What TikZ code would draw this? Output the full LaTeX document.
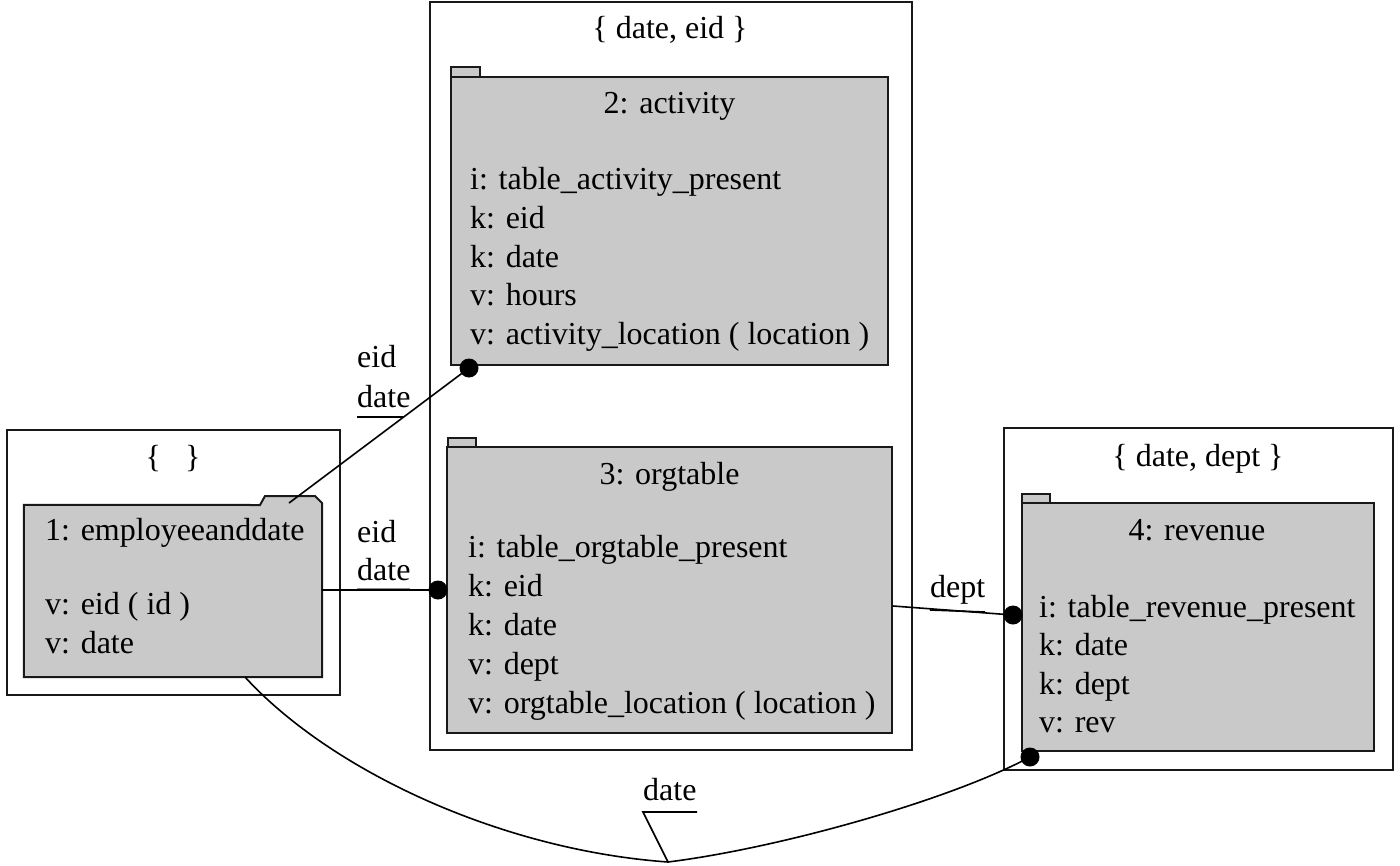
\documentclass[tikz,border=0pt]{standalone}
\usepackage{fontspec}
\setmainfont{Liberation Serif}
\usetikzlibrary{fit}
\begin{document}
\begin{tikzpicture}[x=1pt,y=-1pt,
  outerbox/.style={draw=black!90, line width=2pt, fill=white, inner sep=0pt},
  folder/.style={draw=black!90, line width=2pt, fill=black!21, inner sep=0pt},
  foldertab/.style={draw=black!90, line width=1.8pt, fill=black!21},
  conn/.style={draw=black, line width=1.6pt},
  leader/.style={draw=black, line width=1.6pt},
  dotnode/.style={circle, fill=black, minimum size=19pt, inner sep=0pt},
  txt/.style={font=\fontsize{32}{39}\selectfont, inner sep=0pt, anchor=base west},
  ctxt/.style={font=\fontsize{32}{39}\selectfont, inner sep=0pt, anchor=base}]
\useasboundingbox (0,0) rectangle (1400,865);

% outer groups
\node[outerbox, fit={(7,430) (340,695)}] (g1) {};
\node[outerbox, fit={(430,2) (912,750)}] (g2) {};
\node[outerbox, fit={(1004,428) (1393,770)}] (g3) {};
\node[ctxt] (g1t) at (173,467) {\{\ \ \ \}};
\node[ctxt] (g2t) at (670,38) {\{ date, eid \}};
\node[ctxt] (g3t) at (1198,466) {\{ date, dept \}};

% node 1 (folder with tab on the right)
\node[inner sep=0pt, fit={(24,505) (322,677)}] (n1) {};
\draw[folder] (n1.south west) -- (n1.north west) -- (260,505) -- (265,496)
  -- (315,496) -- (322,503) -- (n1.south east) -- cycle;
\node[txt] (n1t) at (45,540) {1: employeeanddate};
\node[txt] (n1a) at (45,614) {v: eid ( id )};
\node[txt] (n1b) at (45,653) {v: date};

% node 2
\draw[foldertab] (451,77) rectangle (480,67);
\node[folder, fit={(451,77) (888,365)}] (n2) {};
\node[ctxt] (n2t) at (669.5,113) {2: activity};
\node[txt] (n2a) at (470,189) {i: table\_activity\_present};
\node[txt] (n2b) at (470,228) {k: eid};
\node[txt] (n2c) at (470,267) {k: date};
\node[txt] (n2d) at (470,305.5) {v: hours};
\node[txt] (n2e) at (470,344) {v: activity\_location ( location )};

% node 3
\draw[foldertab] (448,447) rectangle (476,438);
\node[folder, fit={(447,447) (892,733)}] (n3) {};
\node[ctxt] (n3t) at (669.5,484) {3: orgtable};
\node[txt] (n3a) at (468,557.5) {i: table\_orgtable\_present};
\node[txt] (n3b) at (468,596.5) {k: eid};
\node[txt] (n3c) at (468,635.5) {k: date};
\node[txt] (n3d) at (468,674.5) {v: dept};
\node[txt] (n3e) at (468,713.5) {v: orgtable\_location ( location )};

% node 4
\draw[foldertab] (1022,503) rectangle (1050,494);
\node[folder, fit={(1022,503) (1374,751)}] (n4) {};
\node[ctxt] (n4t) at (1197,540) {4: revenue};
\node[txt] (n4a) at (1039,617) {i: table\_revenue\_present};
\node[txt] (n4b) at (1039,655.5) {k: date};
\node[txt] (n4c) at (1039,694) {k: dept};
\node[txt] (n4d) at (1039,732.5) {v: rev};

% connector end points
\coordinate (c1s) at (289,503);
\coordinate (c2s) at (322,590);
\coordinate (c3s) at (893,606);
\coordinate (c4s) at (245,677);
\coordinate (c4m) at (668,862);
\node[dotnode] (d1) at (469,368) {};
\node[dotnode] (d2) at (438,590) {};
\node[dotnode] (d3) at (1013,615) {};
\node[dotnode] (d4) at (1030,757) {};

% connectors
\draw[conn] (c1s) -- (d1.center);
\draw[conn] (c2s) -- (d2.center);
\draw[conn] (c3s) -- (d3.center);
\draw[conn] (c4s) .. controls (330,770) and (500,850) .. (c4m)
  .. controls (780,848) and (950,800) .. (d4.center);

% labels
\node[txt] (l1a) at (357,367) {eid};
\node[txt] (l1b) at (357,407) {date};
\coordinate (l1e) at (404,417);
\draw[leader] (357,417) -- (l1e);

\node[txt] (l2a) at (357,542) {eid};
\node[txt] (l2b) at (357,580) {date};
\draw[leader, draw=black!45] (357,588.5) -- (410,588.5);

\node[txt] (l3a) at (930,597) {dept};
\draw[leader] (930,610) -- (985,612);

\node[txt] (l4a) at (643,800) {date};
\draw[leader] (697,812) -- (643,812) -- (c4m);
\end{tikzpicture}
\end{document}
